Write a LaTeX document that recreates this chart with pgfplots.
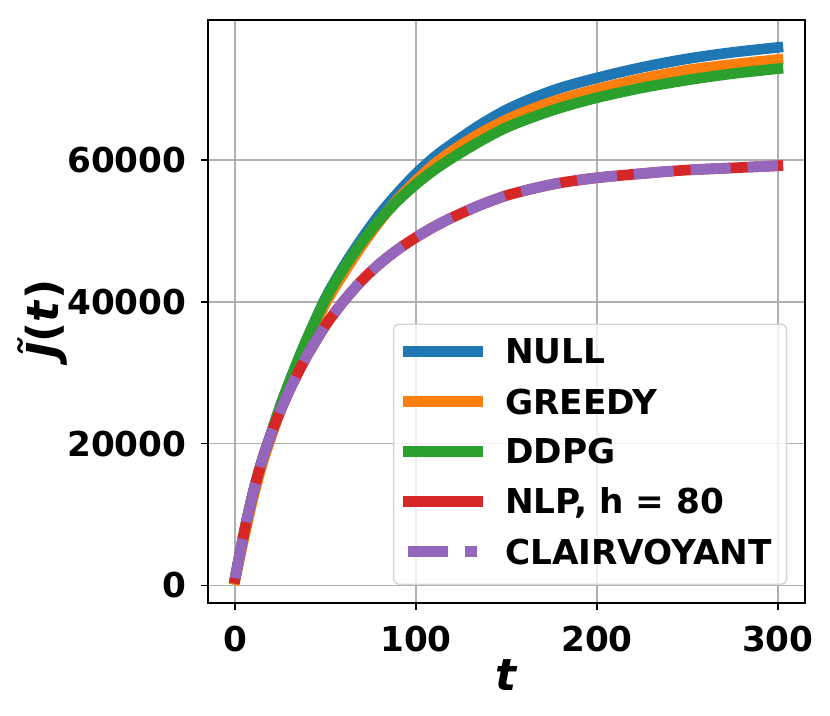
\documentclass[border=0pt]{standalone}
\usepackage{fontspec}
\setmainfont{DejaVu Sans}[BoldFont={DejaVu Sans Bold},ItalicFont={DejaVu Sans Oblique},BoldItalicFont={DejaVu Sans Bold Oblique}]
\usepackage{pgfplots}
\pgfplotsset{compat=1.18}
\usepackage{pgfplotstable}
\definecolor{tabblue}{HTML}{1F77B4}
\definecolor{taborange}{HTML}{FF7F0E}
\definecolor{tabgreen}{HTML}{2CA02C}
\definecolor{tabred}{HTML}{D62728}
\definecolor{tabpurple}{HTML}{9467BD}
\definecolor{gridgray}{HTML}{B0B0B0}
\definecolor{legendgray}{HTML}{D6D6D6}

\pgfplotstableread{
t v
0 1000
5 7500
10 13100
15 17700
20 21500
25 25300
30 28700
35 31900
40 34950
50 40550
60 45000
70 48900
80 52400
90 55400
100 58100
110 60400
120 62300
135 64900
150 67100
165 68800
180 70200
200 71600
225 73100
250 74300
275 75200
300 75900
}\nulldata

\pgfplotstableread{
t v
0 800
5 6800
10 12400
15 17100
20 21000
25 24700
30 28100
35 31300
40 34300
50 39800
60 44000
70 47900
80 51400
90 54500
100 57100
110 59400
120 61300
135 63700
150 65700
165 67300
180 68600
200 70000
225 71500
250 72700
275 73500
300 74200
}\greedydata

\pgfplotstableread{
t v
0 1000
5 7500
10 13100
15 17700
20 21500
25 25300
30 28700
35 31900
40 34900
50 40400
60 44700
70 48400
80 51600
90 54300
100 56600
110 58600
120 60300
135 62600
150 64600
165 66100
180 67400
200 68800
225 70200
250 71300
275 72200
300 72900
}\ddpgdata

\pgfplotstableread{
t v
0 1000
5 7500
10 13100
15 17700
20 21400
25 24600
30 27500
35 30100
40 32500
50 36700
60 40100
70 43000
80 45400
90 47400
100 49100
110 50600
120 51900
135 53600
150 55000
165 56000
180 56800
200 57500
225 58100
250 58600
275 58900
300 59200
}\nlpdata

\pgfplotstableread{
t v
0 1000
5 7500
10 13100
15 17700
20 21400
25 24600
30 27500
35 30100
40 32500
50 36700
60 40100
70 43000
80 45400
90 47400
100 49100
110 50600
120 51900
135 53600
150 55000
165 56000
180 56800
200 57500
225 58100
250 58600
275 58900
300 59200
}\clairdata

\begin{document}
\begin{tikzpicture}
\begin{axis}[
  name=ax,
  scale only axis,
  width=447.75pt, height=437.25pt,
  xmin=-15, xmax=315, ymin=-2500, ymax=79770,
  xtick={0,100,200,300}, ytick={0,20000,40000,60000},
  scaled ticks=false,
  /pgf/number format/assume math mode=true,
  /pgf/number format/1000 sep={},
  tick label style={font=\fontsize{25.7}{30}\selectfont\bfseries},
  xticklabel style={anchor=north, inner sep=0pt, yshift=-12pt},
  yticklabel style={anchor=east, inner sep=0pt, xshift=-11pt},
  tick align=outside, tick pos=left,
  major tick length=5pt,
  every tick/.style={black, line width=1.1pt},
  axis line style={line width=1.1pt},
  grid=major, grid style={color=gridgray, line width=1.1pt},
  xlabel={\textit{t}},
  ylabel={\textit{\~{J}}(\textit{t})},
  label style={font=\fontsize{33}{40}\selectfont\bfseries},
  xlabel style={at={(axis description cs:0.5,0)}, anchor=north, inner sep=0pt, yshift=-42.5pt},
  ylabel style={at={([xshift=-111.8pt]axis description cs:0,0.4867)}, anchor=base, inner sep=0pt},
  legend style={at={(rel axis cs:1,0)}, anchor=south east, xshift=-13.3pt, yshift=13.5pt,
    draw=legendgray, line width=1.1pt, rounded corners=3.75pt, fill=white, fill opacity=0.8, text opacity=1,
    inner xsep=11pt, inner ysep=11.1pt, row sep=14.7pt, column sep=21pt,
    font=\fontsize{25.7}{30}\selectfont\bfseries,
    nodes={inner sep=0pt, text height=18.7pt, text depth=0pt}},
  legend cell align=left,
  legend image code/.code={%
    \draw[#1, overlay, fill=none, rounded corners=0pt] (0pt,0pt) -- (51.75pt,0pt);
    \path[draw=none, fill=none] (0pt,-13.45pt) (51.75pt,9.35pt);},
]
\addplot[tabblue, line width=8pt, line cap=rect, line join=round, smooth] table[x=t,y=v] {\nulldata};
\addlegendentry{NULL}
\addplot[taborange, line width=8pt, line cap=rect, line join=round, smooth] table[x=t,y=v] {\greedydata};
\addlegendentry{GREEDY}
\addplot[tabgreen, line width=8pt, line cap=rect, line join=round, smooth] table[x=t,y=v] {\ddpgdata};
\addlegendentry{DDPG}
\addplot[tabred, line width=8pt, line cap=rect, line join=round, smooth] table[x=t,y=v] {\nlpdata};
\addlegendentry{NLP, h = 80}
\addplot[tabpurple, line width=8pt, line cap=butt, line join=round, smooth, dash pattern=on 30pt off 12.75pt] table[x=t,y=v] {\clairdata};
\addlegendentry{CLAIRVOYANT}
\end{axis}
\pgfresetboundingbox
\path[use as bounding box] ([shift={(-156pt,-84.75pt)}]ax.south west) rectangle ([shift={(18.75pt,15pt)}]ax.north east);
\end{tikzpicture}
\end{document}
